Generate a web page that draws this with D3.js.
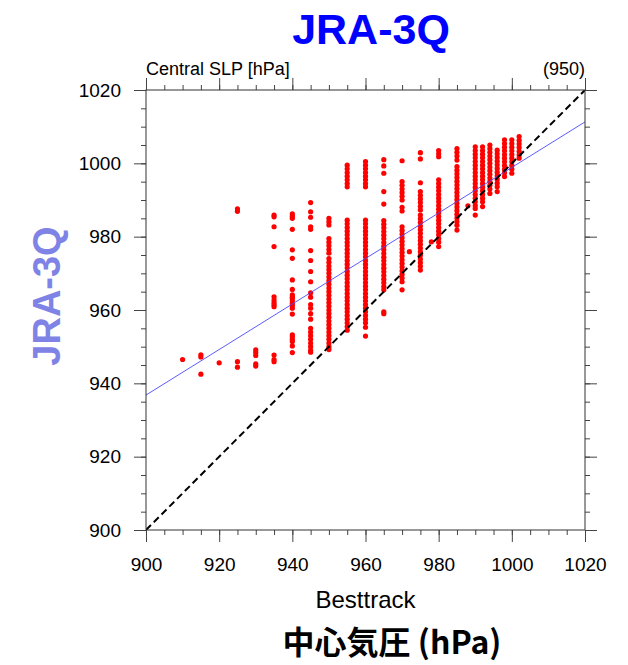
<!DOCTYPE html>
<html>
<head>
<meta charset="utf-8">
<script src="https://cdn.jsdelivr.net/npm/d3@7"></script>
<style>
  body { margin: 0; background: #fff; }
  svg { display: block; font-family: "Liberation Sans", Arial, sans-serif; }
</style>
</head>
<body>
<svg id="drawing_region"></svg>
<script>
// best track central pressure (x) and JRA-3Q central pressure (y), one array per x column
const slp910 = [946.5];
const slp915 = [947.8, 947.2, 942.5];
const slp920 = [945.6];
const slp925 = [987.6, 986.9, 945.9, 944.4];
const slp930 = [949.1, 948.4, 947.6, 945.3, 944.7];
const slp935 = [985.9, 985.4, 982.7, 977.3, 963.6, 962.7, 962.0, 961.4, 960.9, 947.7, 946.5, 945.9];
const slp940 = [986.2, 985.6, 985.0, 982.0, 976.4, 974.1, 968.2, 965.6, 964.1, 963.6, 963.2, 962.5, 961.8, 961.2, 960.5, 958.9, 953.2, 952.7, 952.0, 951.4, 950.2, 948.4];
const slp945 = [989.3, 986.8, 985.3, 982.7, 982.0, 976.2, 973.5, 970.5, 967.7, 964.7, 963.5, 961.5, 960.5, 959.0, 957.5, 955.0, 954.0, 953.0, 952.0, 951.0, 950.0, 949.0, 948.5];
const slp950 = [985.0, 984.1, 983.2, 979.5, 978.5, 977.5, 976.5, 975.5, 974.0, 973.0, 972.0, 971.0, 970.0, 969.0, 968.0, 967.0, 966.0, 965.0, 964.0, 963.0, 962.0, 961.0, 960.0, 959.0, 958.0, 957.0, 956.0, 955.0, 954.0, 953.0, 952.0, 951.0, 950.0, 949.2];
const slp955 = [999.5, 998.5, 997.5, 996.5, 995.5, 994.5, 993.6, 984.5, 983.5, 982.5, 981.5, 980.5, 979.5, 978.5, 977.5, 976.5, 975.5, 974.5, 973.5, 972.5, 971.5, 970.5, 969.5, 968.5, 967.5, 966.5, 965.5, 964.5, 963.5, 962.5, 961.5, 960.5, 959.5, 958.5, 957.5, 956.5, 955.5, 954.5];
const slp960 = [1000.5, 999.5, 998.5, 997.5, 996.5, 995.5, 994.5, 993.6, 984.5, 983.5, 982.5, 981.5, 980.5, 979.5, 978.5, 977.5, 976.5, 975.5, 974.5, 973.5, 972.5, 971.5, 970.5, 969.5, 968.5, 967.5, 966.5, 965.5, 964.5, 963.5, 962.5, 961.5, 960.5, 959.5, 958.5, 957.5, 956.5, 955.3, 952.9];
const slp965 = [1001.0, 999.3, 997.3, 992.3, 988.9, 984.4, 983.4, 982.4, 981.4, 980.4, 979.4, 978.4, 977.4, 976.4, 975.4, 974.4, 973.4, 972.4, 971.4, 970.4, 969.4, 968.4, 967.4, 966.4, 965.5, 959.5, 959.0];
const slp970 = [1000.7, 995.0, 994.0, 993.0, 992.0, 991.0, 990.0, 988.0, 987.0, 982.7, 981.7, 980.7, 979.7, 978.7, 977.7, 976.7, 975.7, 974.7, 973.7, 972.7, 971.7, 970.7, 969.7, 968.7, 967.7, 965.5];
const slp972 = [975.9];
const slp975 = [1002.9, 1001.2, 994.7, 992.3, 991.3, 990.3, 989.3, 988.3, 987.3, 985.9, 984.9, 983.9, 982.9, 981.9, 980.9, 979.9, 978.9, 977.9, 976.9, 975.9, 974.9, 973.9, 972.9, 971.9, 970.9];
const slp978 = [978.6];
const slp980 = [1003.5, 1002.6, 1001.8, 995.5, 994.5, 993.5, 992.5, 991.5, 990.5, 989.5, 988.5, 987.5, 986.5, 985.5, 984.5, 983.5, 982.5, 981.5, 980.5, 979.5, 978.5, 977.3];
const slp985 = [1004.0, 1003.0, 1002.0, 1000.9, 999.1, 998.1, 997.1, 996.1, 995.1, 994.1, 993.1, 992.1, 991.1, 990.1, 989.1, 988.1, 987.1, 986.1, 985.1, 984.1, 983.1, 981.8];
const slp988 = [988.4];
const slp990 = [1004.5, 1003.5, 1002.5, 1001.5, 1000.5, 999.5, 998.5, 997.5, 996.5, 995.5, 994.5, 993.5, 992.5, 991.5, 990.5, 989.5, 988.5, 987.7, 985.9];
const slp992 = [1004.5, 1003.5, 1002.5, 1001.5, 1000.5, 999.5, 998.5, 997.5, 996.5, 995.5, 994.5, 993.5, 992.5, 991.5, 990.5, 989.5, 988.2];
const slp994 = [1005.0, 1004.0, 1003.0, 1002.0, 1001.0, 1000.0, 999.0, 998.0, 997.0, 996.0, 995.0, 994.0, 993.0, 991.8];
const slp996 = [1003.6, 1002.6, 1001.6, 1000.6, 999.6, 998.6, 997.6, 996.6, 995.6, 994.6, 993.6, 992.3];
const slp998 = [1006.4, 1005.4, 1004.4, 1003.4, 1002.4, 1001.4, 1000.4, 999.4, 998.4, 997.4, 996.4];
const slp1000 = [1006.4, 1005.4, 1004.4, 1003.4, 1002.4, 1001.4, 1000.4, 999.4, 998.4, 997.3];
const slp1002 = [1007.3, 1006.3, 1005.3, 1004.3, 1003.3, 1002.3, 1001.4];

const besttrack = [910, 915, 920, 925, 930, 935, 940, 945, 950, 955, 960, 965, 970, 972, 975, 978, 980, 985, 988, 990, 992, 994, 996, 998, 1000, 1002];
const jra3q = [slp910, slp915, slp920, slp925, slp930, slp935, slp940, slp945, slp950, slp955, slp960, slp965, slp970, slp972, slp975, slp978, slp980, slp985, slp988, slp990, slp992, slp994, slp996, slp998, slp1000, slp1002];

// number of samples printed in the upper right
const sampleCount = 950;

// regression line end points and 1:1 line
const fitX = [900, 1020];
const fitY = [936.8, 1011.3];
const oneToOne = [900, 1020];

const xTicks = [900, 920, 940, 960, 980, 1000, 1020];
const yTicks = [900, 920, 940, 960, 980, 1000, 1020];

let points = [];
besttrack.forEach( (bt, i) => {
  jra3q[i].forEach( v => points.push({ x: bt, y: v }) );
});

class ScatterPlot {

  constructor( config, data ) {
    this.config = config;
    this.data = data;
    this.init();
  }

  init() {
    let self = this;
    let c = self.config;

    self.svg = d3.select( c.parent )
      .attr('width', c.width)
      .attr('height', c.height);

    self.inner_width = c.width - c.margin.left - c.margin.right;
    self.inner_height = c.height - c.margin.top - c.margin.bottom;

    self.chart = self.svg.append('g')
      .attr('transform', `translate(${c.margin.left}, ${c.margin.top})`);

    self.xscale = d3.scaleLinear()
      .domain([900, 1020])
      .range([0, self.inner_width]);

    self.yscale = d3.scaleLinear()
      .domain([900, 1020])
      .range([self.inner_height, 0]);

    self.chart.append('clipPath')
      .attr('id', 'clip')
      .append('rect')
      .attr('width', self.inner_width)
      .attr('height', self.inner_height);
  }

  update() {
    let self = this;
    self.render();
  }

  drawAxis( axis, transform, cls ) {
    let self = this;
    let g = self.chart.append('g')
      .attr('class', cls)
      .attr('transform', transform)
      .call( axis );
    g.select('.domain').remove();
    g.selectAll('line').attr('stroke', '#444');
    g.selectAll('text')
      .attr('font-size', '19px')
      .attr('fill', '#000')
      .attr('font-family', '"Liberation Sans", Arial, sans-serif');
    return g;
  }

  render() {
    let self = this;
    let w = self.inner_width, h = self.inner_height;
    let minor = d3.range(900, 1021, 5);

    // minor ticks all around
    self.drawAxis( d3.axisBottom(self.xscale).tickValues(minor).tickSize(5).tickFormat(''), `translate(0,${h})`, 'minor' );
    self.drawAxis( d3.axisTop(self.xscale).tickValues(minor).tickSize(5).tickFormat(''), 'translate(0,0)', 'minor' );
    self.drawAxis( d3.axisLeft(self.yscale).tickValues(minor).tickSize(5).tickFormat(''), 'translate(0,0)', 'minor' );
    self.drawAxis( d3.axisRight(self.yscale).tickValues(minor).tickSize(5).tickFormat(''), `translate(${w},0)`, 'minor' );

    // major ticks
    self.drawAxis( d3.axisBottom(self.xscale).tickValues(xTicks).tickSize(12).tickPadding(16).tickFormat(d3.format('d')), `translate(0,${h})`, 'major' );
    self.drawAxis( d3.axisTop(self.xscale).tickValues(xTicks).tickSize(12).tickFormat(''), 'translate(0,0)', 'major' );
    self.drawAxis( d3.axisLeft(self.yscale).tickValues(yTicks).tickSize(12).tickPadding(13).tickFormat(d3.format('d')), 'translate(0,0)', 'major' );
    self.drawAxis( d3.axisRight(self.yscale).tickValues(yTicks).tickSize(12).tickFormat(''), `translate(${w},0)`, 'major' );

    let plot = self.chart.append('g').attr('clip-path', 'url(#clip)');

    plot.selectAll('circle')
      .data( self.data )
      .enter()
      .append('circle')
      .attr('cx', d => self.xscale(d.x))
      .attr('cy', d => self.yscale(d.y))
      .attr('r', 2.6)
      .attr('fill', '#ff0000');

    plot.append('line')
      .attr('x1', self.xscale(fitX[0]))
      .attr('y1', self.yscale(fitY[0]))
      .attr('x2', self.xscale(fitX[1]))
      .attr('y2', self.yscale(fitY[1]))
      .attr('stroke', '#4848ff')
      .attr('stroke-width', 0.9);

    plot.append('line')
      .attr('x1', self.xscale(oneToOne[0]))
      .attr('y1', self.yscale(oneToOne[0]))
      .attr('x2', self.xscale(oneToOne[1]))
      .attr('y2', self.yscale(oneToOne[1]))
      .attr('stroke', '#000')
      .attr('stroke-width', 2)
      .attr('stroke-dasharray', '7,4');

    // frame
    self.chart.append('rect')
      .attr('width', w)
      .attr('height', h)
      .attr('fill', 'none')
      .attr('stroke', '#333')
      .attr('stroke-width', 1);

    // texts
    self.svg.append('text')
      .attr('x', 371)
      .attr('y', 44)
      .attr('text-anchor', 'middle')
      .attr('font-size', '43px')
      .attr('font-weight', 700)
      .attr('fill', '#0000ff')
      .text('JRA-3Q');

    self.chart.append('text')
      .attr('x', 0)
      .attr('y', -15)
      .attr('font-size', '18px')
      .text('Central SLP [hPa]');

    self.chart.append('text')
      .attr('x', w)
      .attr('y', -15)
      .attr('text-anchor', 'end')
      .attr('font-size', '18px')
      .text(`(${sampleCount})`);

    self.chart.append('text')
      .attr('x', w / 2)
      .attr('y', h + 78)
      .attr('text-anchor', 'middle')
      .attr('font-size', '24px')
      .text('Besttrack');

    self.svg.append('text')
      .attr('transform', 'translate(60, 296) rotate(-90)')
      .attr('text-anchor', 'middle')
      .attr('font-size', '38px')
      .attr('font-weight', 700)
      .attr('fill', '#7f83e6')
      .text('JRA-3Q');

    self.svg.append('text')
      .attr('x', 392)
      .attr('y', 654)
      .attr('text-anchor', 'middle')
      .attr('font-size', '32px')
      .attr('font-weight', 700)
      .attr('font-family', '"Noto Sans CJK JP", "Liberation Sans", sans-serif')
      .text('中心気圧 (hPa)');
  }
}

let config = {
  parent: '#drawing_region',
  width: 628,
  height: 665,
  margin: { top: 90, right: 43, bottom: 135, left: 146 }
};

const scatter_plot = new ScatterPlot( config, points );
scatter_plot.update();
</script>
</body>
</html>
